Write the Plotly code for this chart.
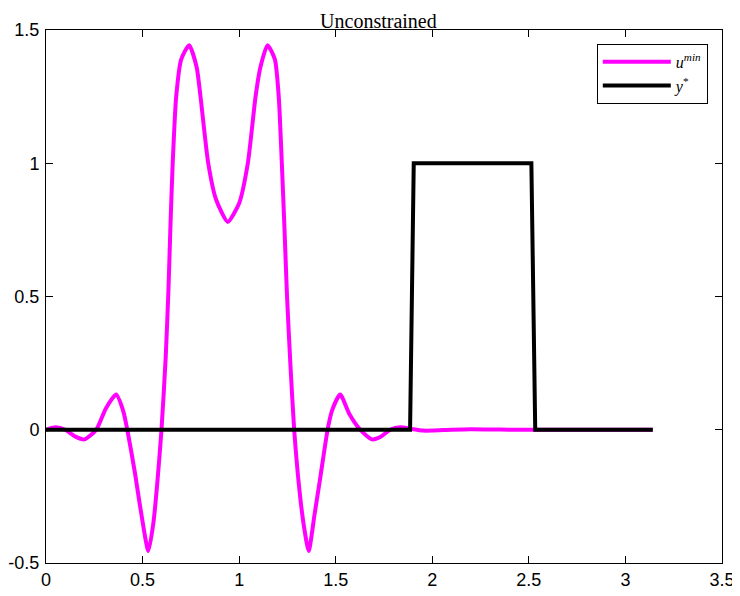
import plotly.graph_objects as go

# u^min
u_x = [0.0, 0.05, 0.10, 0.15, 0.20, 0.26, 0.31, 0.363, 0.40, 0.421, 0.46, 0.49, 0.53, 0.556,
       0.575, 0.598, 0.62, 0.634, 0.645, 0.656, 0.674, 0.70, 0.741, 0.78, 0.80, 0.84, 0.88,
       0.941, 1.00, 1.045, 1.085, 1.11, 1.147, 1.185, 1.205, 1.221, 1.235, 1.248, 1.265, 1.285,
       1.312, 1.335, 1.36, 1.39, 1.42, 1.458, 1.48, 1.523, 1.57, 1.627, 1.687, 1.735, 1.782,
       1.835, 1.885, 1.95, 2.0, 2.1, 2.2, 2.3, 2.4, 2.5, 2.7, 2.9, 3.1416]
u_y = [0.0, 0.009, 0.0, -0.025, -0.036, 0.0, 0.08, 0.132, 0.07, 0.0, -0.16, -0.30, -0.455, -0.35,
       -0.21, 0.0, 0.275, 0.525, 0.78, 1.0, 1.25, 1.39, 1.443, 1.36, 1.25, 1.0, 0.865,
       0.78, 0.85, 1.0, 1.25, 1.36, 1.443, 1.39, 1.25, 1.0, 0.75, 0.5, 0.25, 0.0,
       -0.225, -0.36, -0.455, -0.32, -0.18, 0.0, 0.07, 0.132, 0.06, 0.0, -0.036, -0.025, 0.0,
       0.009, 0.004, -0.003, -0.003, 0.0, 0.002, 0.001, 0.0, 0.0, 0.0, 0.0, 0.0]

# y* target
ys_x = [0.0, 1.885, 1.904, 2.513, 2.533, 3.1416]
ys_y = [0.0, 0.0, 1.0, 1.0, 0.0, 0.0]

x_ticks = [0, 0.5, 1, 1.5, 2, 2.5, 3, 3.5]
x_labels = ["0", "0.5", "1", "1.5", "2", "2.5", "3", "3.5"]
y_ticks = [-0.5, 0, 0.5, 1, 1.5]
y_labels = ["-0.5", "0", "0.5", "1", "1.5"]

fig = go.Figure()
fig.add_trace(go.Scatter(x=u_x, y=u_y, mode="lines", name="<i>u</i><sup><i>min</i></sup>",
                         line=dict(color="#FF00FF", width=4, shape="spline", smoothing=0.6)))
fig.add_trace(go.Scatter(x=ys_x, y=ys_y, mode="lines", name="<i>y</i><sup>*</sup>",
                         line=dict(color="black", width=4)))

axis_common = dict(showgrid=False, zeroline=False, showline=True, linecolor="black",
                   linewidth=1, mirror="ticks", ticks="inside", ticklen=7, tickcolor="black",
                   automargin=False,
                   tickfont=dict(family="Liberation Sans, Arial, sans-serif", size=18, color="black"))

fig.update_xaxes(range=[0, 3.5], tickvals=x_ticks, ticktext=x_labels, **axis_common)
fig.update_yaxes(range=[-0.5, 1.5], tickvals=y_ticks, ticktext=y_labels,
                 ticklabelstandoff=2, **axis_common)

fig.update_layout(
    width=732, height=588,
    margin=dict(l=38, r=18, t=22, b=33, autoexpand=False),
    paper_bgcolor="white", plot_bgcolor="white",
    title=dict(text="Unconstrained", x=0.506, xanchor="center", y=0.99, yanchor="top",
               yref="container",
               font=dict(family="Liberation Serif, DejaVu Serif, serif", size=20, color="black")),
    legend=dict(x=0.979, y=0.974, xanchor="right", yanchor="top", itemwidth=68,
                tracegroupgap=0,
                bgcolor="white", bordercolor="black", borderwidth=1,
                font=dict(family="Liberation Serif, DejaVu Serif, serif", size=16, color="black")),
    showlegend=True,
)

fig.write_html("out.html")
